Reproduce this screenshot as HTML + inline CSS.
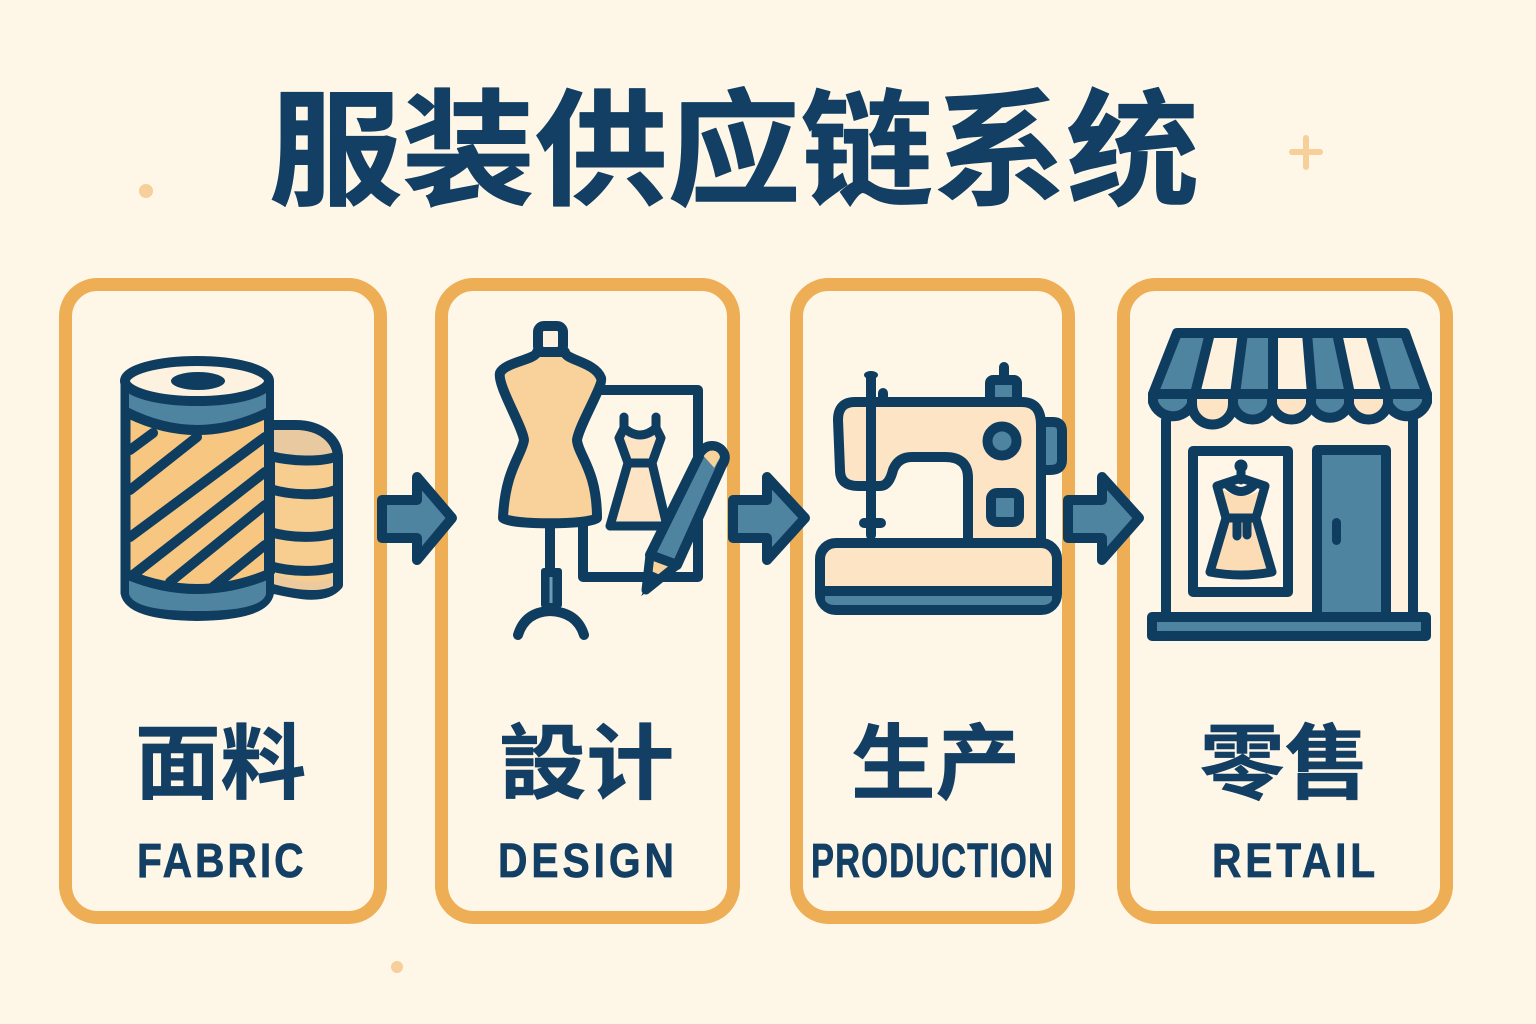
<!DOCTYPE html>
<html lang="zh">
<head>
<meta charset="utf-8">
<title>服装供应链系统</title>
<style>
html,body{margin:0;padding:0;background:#fef7e8}
svg{display:block}
text{font-family:"Liberation Sans","Noto Sans CJK SC",sans-serif;font-weight:700;fill:#123f63}
.cj{stroke:#123f63;stroke-width:.6px;stroke-linejoin:round}
.la{stroke:#123f63;stroke-width:.7px}
.k{stroke:#0f3d60;stroke-width:10;stroke-linejoin:round;stroke-linecap:round;fill:none}
.bl{fill:#4f84a1}.pe{fill:#f9d29b}.lp{fill:#fde4c4}
</style>
</head>
<body>
<svg width="1536" height="1024" viewBox="0 0 1536 1024" xmlns="http://www.w3.org/2000/svg">
<rect width="1536" height="1024" fill="#fef7e8"/>
<circle cx="146" cy="191" r="7" fill="#f6cf9b"/>
<circle cx="397" cy="967" r="6" fill="#f6cf9b"/>
<path d="M1306 138V167M1292 152H1320" stroke="#f6cf9b" stroke-width="6" stroke-linecap="round" fill="none"/>
<text class="cj" style="stroke-width:1px" font-size="126" x="269" y="195" textLength="930" lengthAdjust="spacingAndGlyphs">服装供应链系统</text>

<g fill="none" stroke="#eeae55" stroke-width="13">
<rect x="65.500" y="284.500" width="315" height="633" rx="32"/>
<rect x="441.500" y="284.500" width="292" height="633" rx="32"/>
<rect x="796.500" y="284.500" width="272" height="633" rx="32"/>
<rect x="1123.500" y="284.500" width="323" height="633" rx="32"/>
</g>

<!-- fabric -->
<g>
<path class="k" d="M270 425H295C322 425 338 440 338 458V585C325 600 300 595 270 588Z" style="fill:#f7cd90"/>
<path d="M273 430H295C318 430 331 443 332 455C315 463 290 461 273 456Z" fill="#e8c9a0"/>
<path d="M273 573C295 582 320 585 333 577V586C320 593 295 590 273 584Z" fill="#ecca9e"/>
<path class="k" d="M270 456C290 461 320 463 338 456M270 489C290 495 320 497 338 489M270 532C290 538 320 539 338 532M270 566C290 572 320 573 338 566"/>
<path class="k" d="M125.500 382V593Q130 615 197 616Q265 615 269 593V382Z" style="fill:#f7c680"/>
<path class="bl" d="M129 390H266V412Q197 450 129 412Z"/>
<path class="bl" d="M129 574Q197 604 266 574V594Q262 611 197 611Q134 611 129 594Z"/>
<ellipse cx="197" cy="381" rx="72" ry="20" fill="#fdf1df" stroke="#0f3d60" stroke-width="10"/>
<ellipse cx="198" cy="381" rx="27" ry="9" fill="#0f3d60"/>
<path class="k" d="M126 412Q197 448 269 412M126 574Q197 604 269 574"/>
<path class="k" d="M130 450L153 433M130 490L197 437M130 537L265 437M133 575L265 472M170 582L265 505M213 587L265 545"/>
</g>

<!-- arrows -->
<g fill="#4f84a1" stroke="#0f3d60" stroke-width="10" stroke-linejoin="round">
<path d="M382 500H417V477L452 518L417 560V538H382Z"/>
<path d="M733 500H767V477L805 518L767 560V538H733Z"/>
<path d="M1068 500H1102V477L1139 518L1102 560V538H1068Z"/>
</g>

<!-- design -->
<g>
<path class="k" d="M600 390H698V577H583V520"/>
<path class="lp" d="M628 463L610 526H667L652 463Z"/>
<path class="lp" d="M624 430Q640 442 656 430L661 438L652 463H628L619 438Z"/>
<path class="k" style="stroke-width:9" d="M624 417V428Q640 442 656 428V417M624 428L619 438L628 463H652L661 438L656 428M628 463L610 526H667L652 463"/>
<path class="k" style="fill:#f9d29b" d="M537 352C535 360 505 362 500 373C497 385 522 425 524 440C522 455 505 470 503 518C510 525 590 525 597 518C597 470 578 455 577 440C579 425 604 385 601 378C595 362 565 360 565 352Z"/>
<rect x="538" y="326" width="25" height="26" rx="6" fill="#fdf1df" stroke="#0f3d60" stroke-width="10"/>
<path class="k" d="M550 525V570"/>
<rect x="541" y="568" width="21" height="40" rx="3" fill="#0f3d60"/>
<path d="M551 577V603" stroke="#6d9ab4" stroke-width="3"/>
<path class="k" d="M518 635Q525 612 550 611Q577 612 584 635"/>
<path d="M701 452C706 444 718 444 723 452C726 456 725 461 722 465L677 565L650 555Z" fill="#4f84a1" stroke="#0f3d60" stroke-width="10" stroke-linejoin="round"/>
<path d="M650 555L677 565L646 590Z" fill="#f9d29b" stroke="#0f3d60" stroke-width="9" stroke-linejoin="round"/>
<path d="M646 590L653 574L662 578Z" fill="#0f3d60" stroke="#0f3d60" stroke-width="4"/>
<path d="M705 456C710 449 718 451 719 457L714 466Z" fill="#f9d29b" stroke="#f9d29b" stroke-width="2"/>
</g>

<!-- sewing machine -->
<g>
<rect x="990" y="380" width="27" height="24" rx="3" class="bl" stroke="#0f3d60" stroke-width="10"/>
<path class="k" d="M1004 367V378"/>
<path d="M1041 422H1053Q1062 422 1062 431V460Q1062 470 1050 470H1041Z" class="bl" stroke="#0f3d60" stroke-width="10" stroke-linejoin="round"/>
<path class="k" style="fill:#fde4c4" d="M968 543V478Q968 457 945 457H912Q898 457 893 470Q889 486 880 486H858Q840 486 840 470L838 420Q838 402 855 402H1022Q1041 402 1041 425V543Z"/>
<path class="k" d="M871 376V535M864 523H881"/>
<ellipse cx="871" cy="375" rx="7" ry="4" fill="#0f3d60"/>
<path class="k" d="M883 393V399"/>
<circle cx="1002" cy="441" r="14.500" class="bl" stroke="#0f3d60" stroke-width="10"/>
<rect x="991" y="493" width="28" height="29" rx="6" class="bl" stroke="#0f3d60" stroke-width="10"/>
<rect x="820" y="543" width="237" height="67" rx="16" fill="#fde4c4" stroke="#0f3d60" stroke-width="10"/>
<path class="bl" d="M825 595H1052V600Q1050 605 1042 605H835Q827 605 825 600Z"/>
<path d="M824 591H1053" stroke="#0f3d60" stroke-width="10"/>
</g>

<!-- store -->
<g>
<rect x="1166" y="420" width="247" height="197" fill="#fef1de"/>
<path class="k" d="M1166 420V617M1413 420V617"/>
<rect x="1193" y="451" width="95" height="141" fill="#fff6e7" stroke="#0f3d60" stroke-width="10" stroke-linejoin="round"/>
<rect x="1317" y="450" width="69" height="170" class="bl" stroke="#0f3d60" stroke-width="10" stroke-linejoin="round"/>
<rect x="1332" y="518" width="9" height="27" rx="4.500" fill="#0f3d60"/>
<path style="fill:#fbdcb4" d="M1225 518L1210 572Q1241 578 1272 572L1257 518Z"/>
<path style="fill:#fbdcb4" d="M1220 487L1225 518H1257L1265 487Q1241 505 1220 487Z"/>
<circle cx="1241" cy="466" r="6.500" fill="#0f3d60"/>
<path class="k" style="stroke-width:9" d="M1241 470V480M1241 478L1217 486L1226 518H1256L1265 486ZM1226 483Q1241 500 1256 483M1226 518L1210 572Q1241 578 1272 572L1256 518M1237 520V536M1247 520V535"/>
<rect x="1152" y="617" width="274" height="19" class="bl" stroke="#0f3d60" stroke-width="10" stroke-linejoin="round"/>

<path class="bl" d="M1177 333H1210L1195 394H1153Z"/>
<path fill="#fef1de" d="M1210 333H1243L1235 394H1195Z"/>
<path class="bl" d="M1243 333H1273V394H1235Z"/>
<path fill="#fef1de" d="M1273 333H1307L1312 394H1273Z"/>
<path class="bl" d="M1307 333H1337L1350 394H1312Z"/>
<path fill="#fef1de" d="M1337 333H1370L1387 394H1350Z"/>
<path class="bl" d="M1370 333H1405L1427 394H1387Z"/>
<path class="k" d="M1177 333H1405L1427 394H1153ZM1210 333L1195 394M1243 333L1235 394M1273 333V394M1307 333L1312 394M1337 333L1350 394M1370 333L1387 394"/>
<g stroke="#0f3d60" stroke-width="10" stroke-linejoin="round">
<path class="bl" d="M1153 394V402A21 21 0 0 0 1192 404V394Z"/>
<path class="lp" d="M1192 394V404A20 20 0 0 0 1233 404V394Z"/>
<path class="bl" d="M1233 394V404A20 20 0 0 0 1272 404V394Z"/>
<path class="lp" d="M1272 394V404A20 20 0 0 0 1311 404V394Z"/>
<path class="bl" d="M1311 394V404A20 20 0 0 0 1349 404V394Z"/>
<path class="lp" d="M1349 394V404A20 20 0 0 0 1388 404V394Z"/>
<path class="bl" d="M1388 394V404A21 21 0 0 0 1427 402V394Z"/>
</g>
</g>

<!-- labels -->
<text class="cj" font-size="82" x="135" y="792" textLength="171" lengthAdjust="spacingAndGlyphs">面料</text>
<text class="cj" font-size="82" x="499" y="792" textLength="175" lengthAdjust="spacingAndGlyphs">設计</text>
<text class="cj" font-size="82" x="851" y="792" textLength="169" lengthAdjust="spacingAndGlyphs">生产</text>
<text class="cj" font-size="82" x="1200" y="792" textLength="169" lengthAdjust="spacingAndGlyphs">零售</text>
<text class="la" font-size="48" transform="translate(137 877) scale(.85 1)" textLength="196" lengthAdjust="spacing">FABRIC</text>
<text class="la" font-size="48" transform="translate(498 877) scale(.85 1)" textLength="207" lengthAdjust="spacing">DESIGN</text>
<text class="la" font-size="48" transform="translate(811 877) scale(.72 1)" textLength="336" lengthAdjust="spacing">PRODUCTION</text>
<text class="la" font-size="48" transform="translate(1212 877) scale(.85 1)" textLength="192" lengthAdjust="spacing">RETAIL</text>
</svg>
</body>
</html>
